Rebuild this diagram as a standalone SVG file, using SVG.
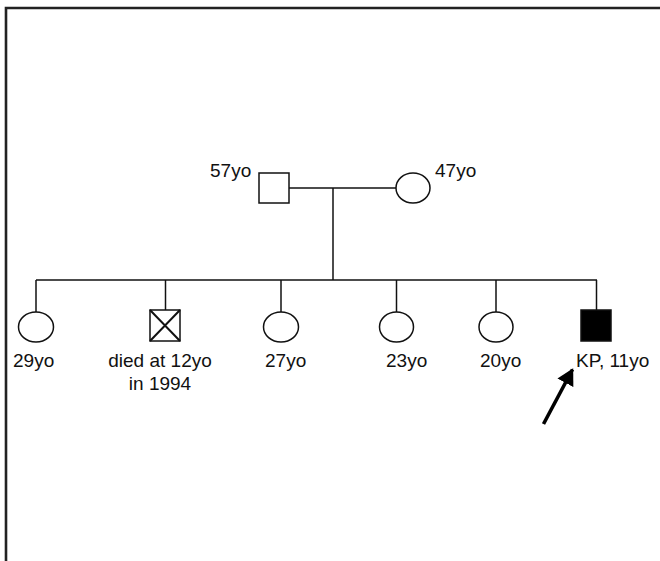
<svg xmlns="http://www.w3.org/2000/svg" width="660" height="561" viewBox="0 0 660 561">
<style>
.ln{stroke:#111;stroke-width:1.5;fill:none}
.sym{stroke:#111;stroke-width:1.5;fill:#fff}
.txt{font-family:"Liberation Sans",Arial,sans-serif;font-size:19px;fill:#111}
.frame{stroke:#222;stroke-width:2.6;fill:none}
</style>
<defs>
<marker id="ah" markerWidth="5" markerHeight="5" refX="4.2" refY="2.5" orient="auto" markerUnits="strokeWidth">
<path d="M0,0 L4.6,2.5 L0,5 Z" fill="#000"/>
</marker>
</defs>
<rect width="660" height="561" fill="#fff"/>
<path class="frame" d="M6,561 V8 H660"/>
<g id="connectors">
<line class="ln" x1="289" y1="188" x2="396" y2="188"/>
<line class="ln" x1="333" y1="188" x2="333" y2="280"/>
<line class="ln" x1="36" y1="280" x2="597" y2="280"/>
<line class="ln" x1="36" y1="280" x2="36" y2="312"/>
<line class="ln" x1="165.5" y1="280" x2="165.5" y2="310"/>
<line class="ln" x1="281" y1="280" x2="281" y2="312"/>
<line class="ln" x1="396.5" y1="280" x2="396.5" y2="312"/>
<line class="ln" x1="496" y1="280" x2="496" y2="312"/>
<line class="ln" x1="596.5" y1="280" x2="596.5" y2="310"/>
</g>
<g id="father">
<rect class="sym" x="259" y="173" width="30" height="30"/>
<text class="txt" x="210" y="177">57yo</text>
</g>
<g id="mother">
<ellipse class="sym" cx="413" cy="188" rx="17" ry="15"/>
<text class="txt" x="435" y="177">47yo</text>
</g>
<g id="child1">
<ellipse class="sym" cx="36" cy="327" rx="17.5" ry="15"/>
<text class="txt" x="13" y="367">29yo</text>
</g>
<g id="child2">
<rect class="sym" x="150" y="310" width="30" height="31"/>
<path class="ln" d="M150,310 L180,341 M180,310 L150,341" style="stroke-width:2"/>
<text class="txt" x="160" y="367" text-anchor="middle">died at 12yo</text>
<text class="txt" x="160" y="390" text-anchor="middle">in 1994</text>
</g>
<g id="child3">
<ellipse class="sym" cx="281" cy="327" rx="17.5" ry="15"/>
<text class="txt" x="265" y="367">27yo</text>
</g>
<g id="child4">
<ellipse class="sym" cx="396.5" cy="327" rx="17" ry="15"/>
<text class="txt" x="386" y="367">23yo</text>
</g>
<g id="child5">
<ellipse class="sym" cx="496" cy="327" rx="17" ry="15"/>
<text class="txt" x="480" y="367">20yo</text>
</g>
<g id="proband">
<rect x="581" y="310" width="30" height="31" fill="#000" stroke="#111" stroke-width="1.5"/>
<text class="txt" x="576" y="367">KP, 11yo</text>
</g>
<g id="arrow">
<line x1="543.5" y1="424" x2="572.5" y2="369.5" stroke="#000" stroke-width="3.6" marker-end="url(#ah)"/>
</g>
</svg>
